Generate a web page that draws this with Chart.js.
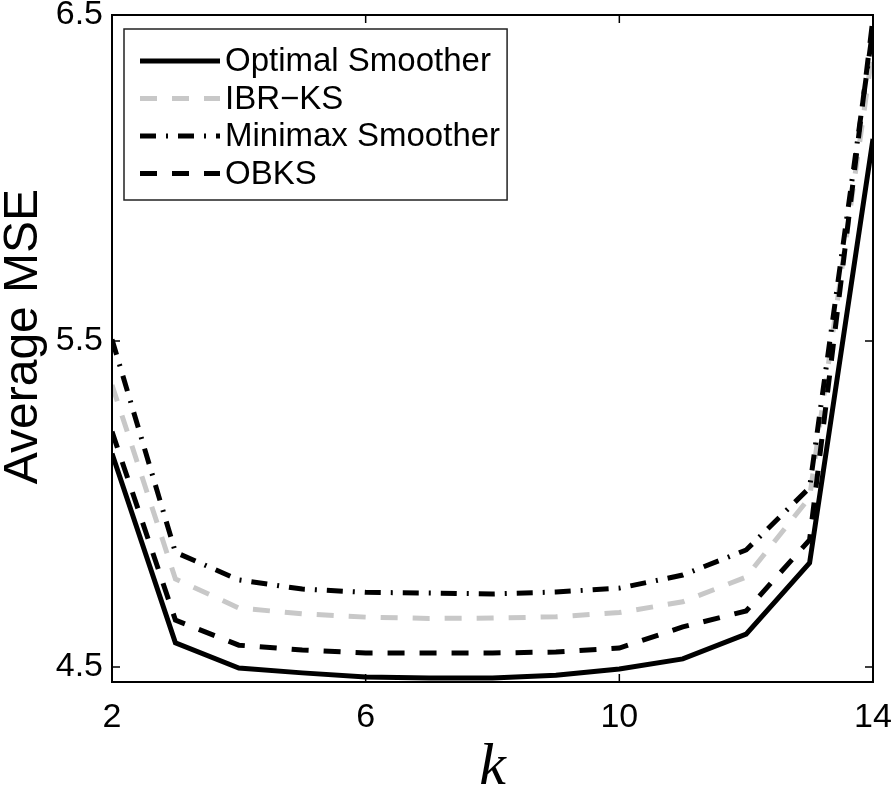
<!DOCTYPE html>
<html lang="en">
<head>
    <meta charset="UTF-8">
    <title>Average MSE vs k</title>
    <script src="https://cdn.jsdelivr.net/npm/chart.js"></script>
    <style>
        html, body { margin: 0; padding: 0; background: #fff; }
        #wrap { width: 894px; height: 789px; }
    </style>
</head>
<body>
    <div id="wrap"><canvas id="mseChart" width="894" height="789"></canvas></div>

    <script>
        // values
        const ks = [2, 3, 4, 5, 6, 7, 8, 9, 10, 11, 12, 13, 14];
        const optimalSmoother = [5.155, 4.574, 4.497, 4.482, 4.469, 4.466, 4.466, 4.475, 4.494, 4.525, 4.601, 4.819, 6.12];
        const ibrKs           = [5.365, 4.770, 4.681, 4.663, 4.653, 4.649, 4.650, 4.654, 4.667, 4.700, 4.776, 5.020, 6.40];
        const minimaxSmoother = [5.505, 4.852, 4.767, 4.739, 4.729, 4.727, 4.724, 4.730, 4.742, 4.782, 4.859, 5.050, 6.46];
        const obks            = [5.222, 4.644, 4.567, 4.552, 4.543, 4.543, 4.543, 4.546, 4.558, 4.623, 4.672, 4.890, 6.49];
        const xTicks = [2, 6, 10, 14];
        const yTicks = [4.5, 5.5, 6.5];

        const FONT = "'Liberation Sans', Arial, Helvetica, sans-serif";

        function pts(arr) {
            return ks.map((k, i) => ({ x: k, y: arr[i] }));
        }

        // box around the axes + inward tick marks on all four sides (matlab style)
        const frameTicks = {
            id: 'frameTicks',
            afterDatasetsDraw(chart) {
                const { ctx, chartArea: a, scales } = chart;
                const len = 8;
                ctx.save();
                ctx.strokeStyle = '#000';
                ctx.lineWidth = 1.5;
                ctx.beginPath();
                xTicks.forEach(v => {
                    const x = scales.x.getPixelForValue(v);
                    ctx.moveTo(x, a.bottom); ctx.lineTo(x, a.bottom - len);
                    ctx.moveTo(x, a.top); ctx.lineTo(x, a.top + len);
                });
                yTicks.forEach(v => {
                    const y = scales.y.getPixelForValue(v);
                    ctx.moveTo(a.left, y); ctx.lineTo(a.left + len, y);
                    ctx.moveTo(a.right, y); ctx.lineTo(a.right - len, y);
                });
                ctx.stroke();
                ctx.lineWidth = 2;
                ctx.strokeRect(a.left, a.top, a.right - a.left, a.bottom - a.top);
                ctx.restore();
            }
        };

        // legend box in the upper left of the plot
        const legendBox = {
            id: 'legendBox',
            afterDraw(chart) {
                const { ctx, chartArea: a } = chart;
                const sets = chart.data.datasets;
                ctx.save();
                ctx.font = '33px ' + FONT;
                let maxW = 0;
                sets.forEach(d => { maxW = Math.max(maxW, ctx.measureText(d.label).width); });
                const bx = a.left + 12, by = a.top + 14;
                const rowH = 37.5;
                const bw = 101 + maxW + 7, bh = 171;
                ctx.fillStyle = '#fff';
                ctx.fillRect(bx, by, bw, bh);
                ctx.strokeStyle = '#222';
                ctx.lineWidth = 1.5;
                ctx.strokeRect(bx, by, bw, bh);
                sets.forEach((d, i) => {
                    const y = by + 32 + i * rowH;
                    ctx.strokeStyle = d.borderColor;
                    ctx.lineWidth = d.borderWidth;
                    ctx.setLineDash(d.borderDash || []);
                    ctx.beginPath();
                    ctx.moveTo(bx + 16, y);
                    ctx.lineTo(bx + 96, y);
                    ctx.stroke();
                    ctx.setLineDash([]);
                    ctx.fillStyle = '#000';
                    ctx.textBaseline = 'middle';
                    ctx.fillText(d.label, bx + 101, y + 1);
                });
                ctx.restore();
            }
        };

        const ctx = document.getElementById('mseChart').getContext('2d');
        new Chart(ctx, {
            type: 'line',
            data: {
                datasets: [
                    { label: 'Optimal Smoother', data: pts(optimalSmoother), borderColor: '#000', borderWidth: 5, order: 4 },
                    { label: 'IBR\u2212KS', data: pts(ibrKs), borderColor: '#c8c8c8', borderWidth: 5, borderDash: [17, 15], order: 3 },
                    { label: 'Minimax Smoother', data: pts(minimaxSmoother), borderColor: '#000', borderWidth: 5, borderDash: [16, 10, 2, 10], order: 2 },
                    { label: 'OBKS', data: pts(obks), borderColor: '#000', borderWidth: 5, borderDash: [17, 15], order: 1 }
                ]
            },
            options: {
                responsive: false,
                animation: false,
                devicePixelRatio: 1,
                elements: {
                    point: { radius: 0 },
                    line: { tension: 0, borderCapStyle: 'butt', borderJoinStyle: 'miter', fill: false }
                },
                layout: { padding: { top: 15, right: 21, left: 0, bottom: 0 } },
                plugins: {
                    legend: { display: false },
                    tooltip: { enabled: false }
                },
                scales: {
                    x: {
                        type: 'linear',
                        min: 2,
                        max: 14,
                        afterBuildTicks: s => { s.ticks = xTicks.map(v => ({ value: v })); },
                        afterFit: s => { s.height = 107; s.paddingLeft = 0; s.paddingRight = 0; },
                        grid: { display: false, drawTicks: false },
                        border: { display: false },
                        ticks: {
                            color: '#000',
                            font: { family: FONT, size: 34 },
                            padding: 15,
                            maxRotation: 0,
                            callback: v => String(v)
                        },
                        title: {
                            display: true,
                            text: 'k',
                            color: '#000',
                            font: { family: "'Liberation Serif', 'Times New Roman', serif", size: 60, style: 'italic', lineHeight: 0.7 },
                            padding: { top: 0, bottom: 0 }
                        }
                    },
                    y: {
                        min: 4.454,
                        max: 6.5,
                        afterBuildTicks: s => { s.ticks = yTicks.map(v => ({ value: v })); },
                        afterFit: s => { s.width = 112; s.paddingTop = 0; s.paddingBottom = 0; },
                        grid: { display: false, drawTicks: false },
                        border: { display: false },
                        ticks: {
                            color: '#000',
                            font: { family: FONT, size: 34 },
                            padding: 9,
                            callback: v => v.toFixed(1)
                        },
                        title: {
                            display: true,
                            text: '\u2002Average MSE',
                            color: '#000',
                            font: { family: FONT, size: 48, lineHeight: 1.0 },
                            padding: { top: 0, bottom: 0 }
                        }
                    }
                }
            },
            plugins: [frameTicks, legendBox]
        });
    </script>
</body>
</html>
